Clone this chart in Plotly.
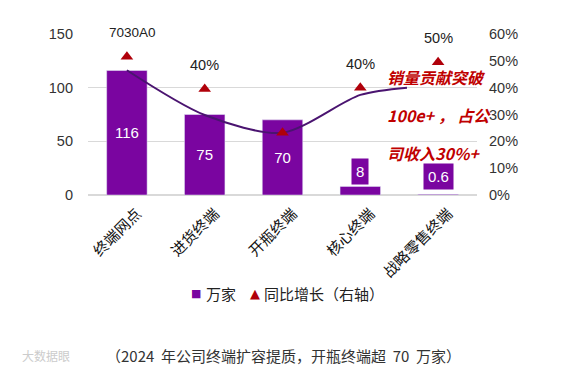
import plotly.graph_objects as go

categories = ["终端网点", "进货终端", "开瓶终端", "核心终端", "战略零售终端"]
bar_values = [116, 75, 70, 8, 0.6]
bar_labels = ["116", "75", "70", "8", "0.6"]
growth = [0.515, 0.395, 0.232, 0.40, 0.495]
growth_labels = ["7030A0", "40%", "", "40%", "50%"]
trend_x = [0, 1, 2, 3, 3.6]
trend_y = [0.465, 0.298, 0.232, 0.373, 0.40]
left_ticks = [0, 50, 100, 150]
right_ticks = [0, 0.1, 0.2, 0.3, 0.4, 0.5, 0.6]
legend_names = ["万家", "同比增长（右轴）"]

PURPLE = "#7A05A0"
RED = "#B0000A"
LINE = "#4A1470"
FONT = "Liberation Sans, Noto Sans CJK SC, sans-serif"
CJK = "Noto Sans CJK SC, Liberation Sans, sans-serif"

# page body has an 8px margin; figure is laid out in window pixels minus this offset
OFF = 8
W, H = 586 - OFF, 373 - OFF
L, T = 88 - OFF, 34 - OFF
R = W - (477 - OFF)
B = H - (195 - OFF)
pw, ph = W - L - R, H - T - B


def px(xw):
    return (xw - OFF - L) / pw


def py(yw):
    return (H - B - (yw - OFF)) / ph


idx = list(range(len(categories)))
inside = [t if v >= 30 else "" for v, t in zip(bar_values, bar_labels)]

fig = go.Figure()
fig.add_trace(go.Bar(
    x=idx, y=bar_values, name=legend_names[0], marker_color=PURPLE, width=0.52,
    text=inside, textposition="inside", insidetextanchor="middle",
    textfont=dict(color="white", size=15, family=FONT), showlegend=False,
))
fig.add_trace(go.Scatter(
    x=trend_x, y=trend_y, yaxis="y2", mode="lines", showlegend=False,
    line=dict(color=LINE, width=2, shape="spline", smoothing=0.8), hoverinfo="skip",
))
fig.add_trace(go.Scatter(
    x=idx, y=growth, yaxis="y2", mode="markers", name=legend_names[1], showlegend=False,
    marker=dict(symbol="triangle-up", size=11, color=RED),
))

annotations = []
for i, (v, t) in enumerate(zip(bar_values, bar_labels)):
    if v < 30:
        annotations.append(dict(
            x=i, y=v, xref="x", yref="y", text=t, showarrow=False,
            yanchor="bottom", yshift=1 if v > 2 else 4,
            bgcolor=PURPLE, borderpad=4,
            font=dict(color="white", size=15, family=FONT),
        ))
for i, (g, t) in enumerate(zip(growth, growth_labels)):
    if t:
        wide = len(t) > 4
        annotations.append(dict(
            x=i, y=g, xref="x", yref="y2", text=t, showarrow=False,
            yanchor="middle", yshift=24, xshift=6 if wide else 0,
            font=dict(color="#222222", size=13.5 if wide else 14.5, family=FONT),
        ))
note_lines = ["销量贡献突破", "100e+ ， 占公", "司收入30%+"]
note_y = [77, 115, 153]
for line, yy in zip(note_lines, note_y):
    annotations.append(dict(
        x=px(385), y=py(yy), xref="paper", yref="paper",
        text="<b><i>" + line + "</i></b>",
        showarrow=False, xanchor="left", yanchor="middle",
        font=dict(color="#C00000", size=16, family=CJK),
    ))
# legend drawn as text items
LEG_Y = 293
annotations += [
    dict(x=px(201.5), y=py(LEG_Y), xref="paper", yref="paper", text="■", showarrow=False,
         xanchor="right", yanchor="middle", borderpad=0,
         font=dict(color=PURPLE, size=11, family="DejaVu Sans")),
    dict(x=px(204), y=py(LEG_Y), xref="paper", yref="paper", xanchor="left", yanchor="middle",
         text=legend_names[0], showarrow=False, font=dict(color="#222222", size=15, family=CJK)),
    dict(x=px(254.5), y=py(LEG_Y), xref="paper", yref="paper", text="▲", showarrow=False,
         yanchor="middle", borderpad=0,
         font=dict(color=RED, size=13, family="DejaVu Sans")),
    dict(x=px(262), y=py(LEG_Y), xref="paper", yref="paper", xanchor="left", yanchor="middle",
         text=legend_names[1], showarrow=False, font=dict(color="#222222", size=15, family=CJK)),
]
annotations.append(dict(
    x=px(283), y=py(355), xref="paper", yref="paper", yanchor="middle",
    text="（2024  年公司终端扩容提质，开瓶终端超  70  万家）", showarrow=False,
    font=dict(color="#333333", size=15, family=CJK),
))
annotations.append(dict(
    x=px(20), y=py(355), xref="paper", yref="paper", xanchor="left", yanchor="middle",
    text="大数据眼", showarrow=False,
    font=dict(color="#cccccc", size=12, family="Noto Sans CJK SC"),
))

fig.update_layout(
    width=W, height=H, margin=dict(l=L, r=R, t=T, b=B),
    paper_bgcolor="white", plot_bgcolor="white",
    font=dict(family=FONT, size=14, color="#333333"),
    showlegend=False,
    xaxis=dict(range=[-0.5, 4.5], tickmode="array", tickvals=idx, ticktext=categories,
               tickangle=-45, showgrid=False, showline=False, zeroline=False,
               ticklabelshift=10, ticklabelstandoff=6,
               tickfont=dict(size=15, color="#111111", family=CJK)),
    yaxis=dict(range=[0, 150], tickvals=left_ticks, showgrid=True, gridcolor="#d9d9d9",
               zeroline=True, zerolinecolor="#d9d9d9", showline=False,
               ticklabelstandoff=14,
               tickfont=dict(size=14.5, color="#333333")),
    yaxis2=dict(range=[0, 0.6], tickvals=right_ticks, tickformat=".0%", overlaying="y",
                side="right", showgrid=False, zeroline=False, showline=False,
                ticklabelstandoff=11,
                tickfont=dict(size=14.5, color="#333333")),
    annotations=annotations,
)
fig.write_html("out.html")
